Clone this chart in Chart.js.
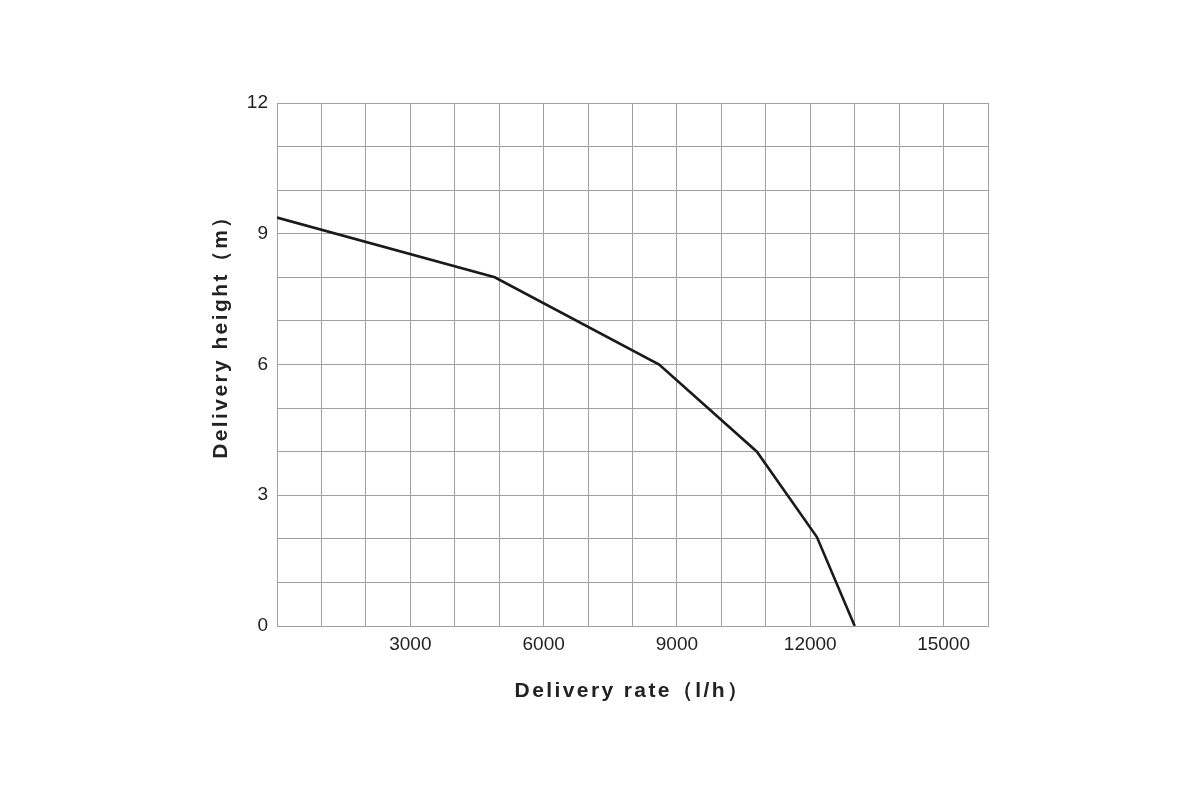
<!DOCTYPE html>
<html>
<head>
<meta charset="utf-8">
<script src="https://cdn.jsdelivr.net/npm/chart.js@4"></script>
<style>
html,body{margin:0;padding:0;background:#fff;}
#wrap{width:1200px;height:800px;}
</style>
</head>
<body>
<div id="wrap"><canvas id="c" width="1200" height="800"></canvas></div>
<script>
const rateValues = [0, 4900, 8600, 10800, 12150, 13000];
const heightValues = [9.37, 8.0, 6.0, 4.0, 2.04, 0];
const xTickLabels = [3000, 6000, 9000, 12000, 15000];
const yTickLabels = [0, 3, 6, 9, 12];
const xTitle = 'Delivery rate（l/h）';
const yTitle = '        Delivery height（m）';

const points = rateValues.map((x, i) => ({x: x, y: heightValues[i]}));

function spacedTitle(scale) {
  if (scale._spacedTitle) return;
  scale._spacedTitle = true;
  const orig = scale.drawTitle;
  scale.drawTitle = function () {
    const ctx = this.ctx;
    const prev = ctx.letterSpacing;
    ctx.letterSpacing = '2.4px';
    orig.call(this);
    ctx.letterSpacing = prev || '0px';
  };
}

new Chart(document.getElementById('c'), {
  type: 'line',
  data: {
    datasets: [{
      data: points,
      borderColor: '#1a1a1a',
      borderWidth: 2.6,
      pointRadius: 0,
      tension: 0,
      fill: false
    }]
  },
  options: {
    responsive: false,
    animation: false,
    devicePixelRatio: 1,
    layout: {padding: {left: 209, right: 212, top: 103, bottom: 96}},
    plugins: {legend: {display: false}, tooltip: {enabled: false}},
    scales: {
      x: {
        type: 'linear',
        min: 0, max: 16000,
        ticks: {
          stepSize: 1000,
          autoSkip: false,
          maxRotation: 0,
          padding: 7,
          color: '#222',
          font: {family: 'Liberation Sans', size: 19},
          callback: v => xTickLabels.includes(v) ? String(v) : ''
        },
        grid: {color: '#a0a0a0', lineWidth: 1, drawTicks: false},
        border: {color: '#a0a0a0', width: 1},
        title: {
          display: true,
          text: xTitle,
          color: '#222',
          font: {family: 'Liberation Sans', size: 21, weight: 'bold'},
          padding: {top: 0, bottom: 0}
        },
        afterFit: s => { s.height = 78; spacedTitle(s); }
      },
      y: {
        type: 'linear',
        min: 0, max: 12,
        ticks: {
          stepSize: 1,
          autoSkip: false,
          padding: 9,
          color: '#222',
          font: {family: 'Liberation Sans', size: 19},
          callback: v => yTickLabels.includes(v) ? String(v) : ''
        },
        grid: {color: '#a0a0a0', lineWidth: 1, drawTicks: false},
        border: {color: '#a0a0a0', width: 1},
        title: {
          display: true,
          text: yTitle,
          color: '#222',
          font: {family: 'Liberation Sans', size: 21, weight: 'bold'},
          padding: {top: 0, bottom: 0}
        },
        afterFit: s => { s.width = 68; spacedTitle(s); }
      }
    }
  }
});
</script>
</body>
</html>
